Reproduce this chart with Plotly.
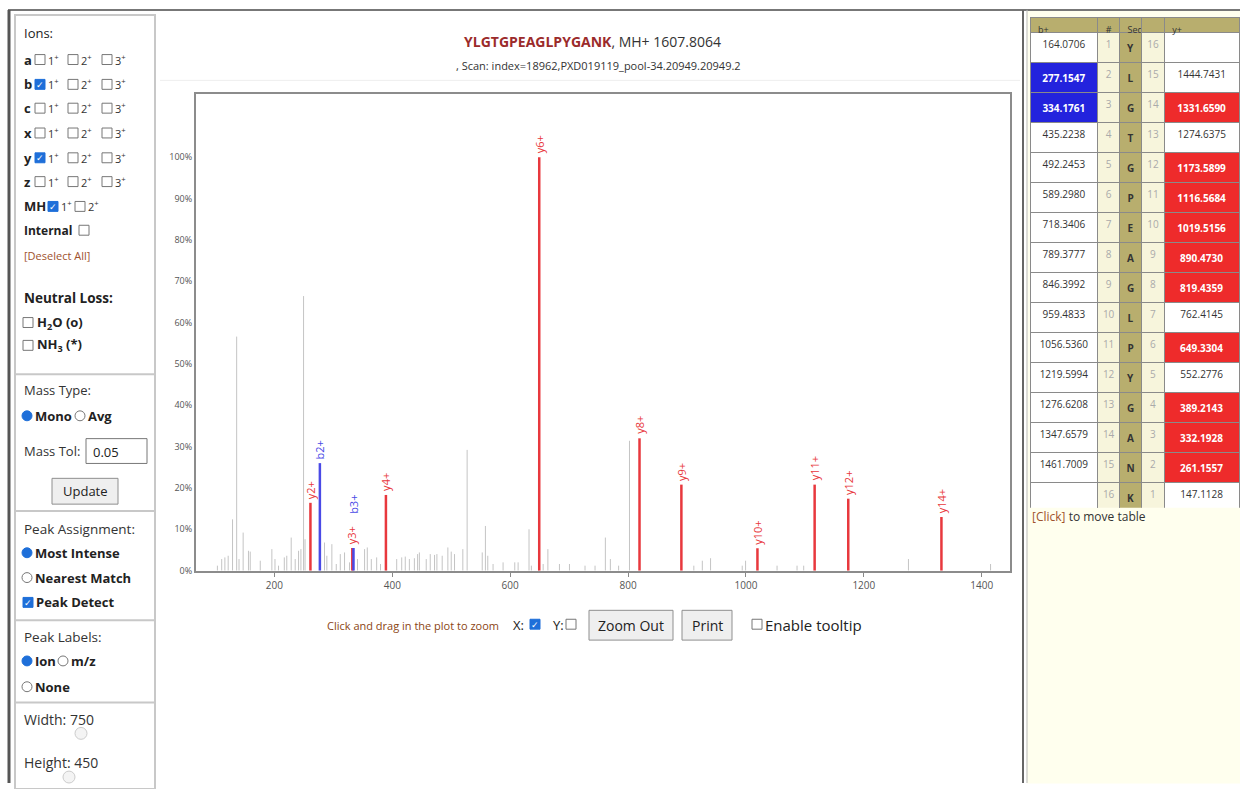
import plotly.graph_objects as go

W, H = 1240, 789
FONT = "Open Sans, DejaVu Sans, sans-serif"

# ---- peptide / fragment table ----
seq = list("YLGTGPEAGLPYGANK")
b_ions = [164.0706, 277.1547, 334.1761, 435.2238, 492.2453, 589.2980, 718.3406, 789.3777,
          846.3992, 959.4833, 1056.5360, 1219.5994, 1276.6208, 1347.6579, 1461.7009, None]
y_ions = [None, 1444.7431, 1331.6590, 1274.6375, 1173.5899, 1116.5684, 1019.5156, 890.4730,
          819.4359, 762.4145, 649.3304, 552.2776, 389.2143, 332.1928, 261.1557, 147.1128]

# matched ions (ion number) and relative intensity (%)
b_match = [2, 3]
b_match_int = [26.0, 5.5]
y_match = [2, 3, 4, 6, 8, 9, 10, 11, 12, 14]
y_match_int = [16.4, 5.5, 18.3, 100.0, 32.0, 20.8, 5.4, 20.8, 17.4, 13.0]

# unassigned peaks (grey)
bg_mz = [103.3, 110.6, 116, 121.6, 129, 136, 140, 147, 156, 159, 176, 195.7, 201, 207, 216.8, 221,
         228.5, 235.3, 241, 245, 249.5, 252, 285, 289, 297.5, 305, 311.8, 319, 327.5, 341, 353,
         357.6, 364.4, 373.5, 380, 407.5, 416, 422, 429, 437.5, 443, 446, 457.6, 464.4, 471.7,
         475.7, 484.7, 494.3, 500, 505.6, 519.7, 527, 552.6, 558, 562, 571, 588, 607.8, 613.5,
         632, 636, 648, 656, 664, 683.6, 700.6, 727, 744, 761.5, 770, 784, 802.4, 911.6, 926,
         940, 993.7, 999.4, 1052.8, 1086.7, 1098, 1275.7, 1415]
bg_int = [1.2, 2.8, 3.2, 3.6, 12.4, 56.6, 2.8, 9.2, 4.8, 4.6, 2.4, 5.2, 2.8, 1.2, 3.2, 3.6, 8.0,
          2.8, 4.8, 5.2, 66.4, 7.6, 6.8, 3.6, 6.4, 1.6, 4.0, 4.4, 2.0, 2.8, 5.2, 5.6, 2.8, 3.2,
          1.6, 2.8, 3.2, 3.4, 2.8, 3.0, 4.0, 4.4, 2.8, 4.0, 3.8, 4.0, 3.6, 5.6, 4.6, 4.0, 5.2,
          29.2, 4.4, 10.8, 3.6, 1.6, 2.0, 2.0, 2.0, 10.0, 1.2, 24, 1.6, 5.2, 1.6, 1.6, 1.2, 1.2,
          8.0, 2.8, 1.2, 31.4, 1.2, 2.4, 3.0, 1.2, 2.4, 1.2, 1.2, 1.2, 2.8, 1.6]

x_ticks = [200, 400, 600, 800, 1000, 1200, 1400]
y_ticks = [0, 10, 20, 30, 40, 50, 60, 70, 80, 90, 100]

RED = "#e8383d"
BLUE = "#4a4ae6"
GREY = "#c4c4c4"


def sticks(mz, inten):
    xs, ys = [], []
    for m, i in zip(mz, inten):
        xs += [m, m, None]
        ys += [0, i, None]
    return xs, ys


def px(x):
    return x / W


def py(y):
    return 1 - y / H


fig = go.Figure()

gx, gy = sticks(bg_mz, bg_int)
fig.add_trace(go.Scatter(x=gx, y=gy, mode="lines", line=dict(color=GREY, width=1), hoverinfo="skip"))

n = len(seq)
b_mz = [b_ions[k - 1] for k in b_match]
y_mz = [y_ions[n - k] for k in y_match]
yx, yy = sticks(y_mz, y_match_int)
bx, by = sticks(b_mz, b_match_int)
fig.add_trace(go.Scatter(x=yx, y=yy, mode="lines", line=dict(color=RED, width=2.5), hoverinfo="skip"))
fig.add_trace(go.Scatter(x=bx, y=by, mode="lines", line=dict(color=BLUE, width=2.5), hoverinfo="skip"))

annotations = []
shapes = []

# peak labels (stack labels of peaks that sit on top of each other)
labels = [(m, i, f"y{k}+", RED) for m, i, k in zip(y_mz, y_match_int, y_match)]
labels += [(m, i, f"b{k}+", BLUE) for m, i, k in zip(b_mz, b_match_int, b_match)]
placed = []
for m, i, t, c in labels:
    shift = 2 + 30 * sum(1 for pm in placed if abs(pm - m) < 5)
    placed.append(m)
    annotations.append(dict(x=m, y=i, xref="x", yref="y", text=t, textangle=-90, showarrow=False,
                            xanchor="center", yanchor="bottom", yshift=shift,
                            font=dict(size=11, color=c, family=FONT)))


def text(x, y, s, size=13, color="#222", anchor="left"):
    annotations.append(dict(x=px(x), y=py(y), xref="paper", yref="paper", text=s, showarrow=False,
                            xanchor=anchor, yanchor="middle", font=dict(size=size, color=color, family=FONT)))


def line(x0, y0, x1, y1, color="#c8c8c8", width=2):
    shapes.append(dict(type="line", xref="paper", yref="paper", x0=px(x0), y0=py(y0), x1=px(x1), y1=py(y1),
                       line=dict(color=color, width=width), layer="above"))


def rect(x0, y0, x1, y1, fill="white", color="#888", width=1, layer="above"):
    shapes.append(dict(type="rect", xref="paper", yref="paper", x0=px(x0), y0=py(y0), x1=px(x1), y1=py(y1),
                       fillcolor=fill, line=dict(color=color, width=width), layer=layer))


def checkbox(x, y, checked=False):
    if checked:
        rect(x, y - 5, x + 10, y + 5, fill="#1e6fd9", color="#1e6fd9")
        text(x + 5, y, "<b>✓</b>", size=9, color="white", anchor="center")
    else:
        rect(x, y - 5, x + 10, y + 5, fill="white", color="#777")


def radio(x, y, checked=False):
    shapes.append(dict(type="circle", xref="paper", yref="paper", x0=px(x - 5), y0=py(y - 5),
                       x1=px(x + 5), y1=py(y + 5), layer="above",
                       fillcolor="#1e6fd9" if checked else "white",
                       line=dict(color="#1e6fd9" if checked else "#777", width=1)))


def button(x0, y0, x1, y1, label, size=14):
    rect(x0, y0, x1, y1, fill="#efefef", color="#8f8f8f")
    text((x0 + x1) / 2, (y0 + y1) / 2, label, size=size, color="#222", anchor="center")


# page frame
rect(1027, 10, 1240, 789, fill="#ffffee", color="#ffffee", layer="below")
line(8, 10, 1240, 10, color="#777", width=2)
line(9, 10, 9, 789, color="#555", width=3)
line(1023, 10, 1023, 789, color="#666", width=2)
line(1027, 10, 1027, 789, color="#bbb", width=1)
rect(15, 15, 155, 795, fill="rgba(0,0,0,0)", color="#c8c8c8", width=2)
for sy in [377, 515, 625, 708]:
    line(15, sy, 155, sy)
line(160, 81, 1020, 81, color="#eeeeee", width=1)

# left option panel
text(22, 33, "Ions:", color="#222")
rows = ["a", "b", "c", "x", "y", "z"]
checked_rows = {"b", "y"}
for r, yy0 in zip(rows, [60, 85, 109, 134, 159, 183]):
    text(22, yy0, f"<b>{r}</b>")
    for j, bx0 in enumerate([35, 68, 102]):
        checkbox(bx0, yy0, checked=(j == 0 and r in checked_rows))
        text(bx0 + 11, yy0, f"{j + 1}<sup>+</sup>", size=11, color="#333")
text(22, 208, "<b>MH</b>")
checkbox(48, 208, True)
text(59, 208, "1<sup>+</sup>", size=11, color="#333")
checkbox(75, 208)
text(86, 208, "2<sup>+</sup>", size=11, color="#333")
text(22, 232, "<b>Internal</b>", size=12)
checkbox(79, 232)
text(22, 257, "[Deselect All]", size=11, color="#a0522d")
text(22, 300, "<b>Neutral Loss:</b>", size=13.5)
checkbox(23, 325)
text(35, 325, "<b>H<sub>2</sub>O (o)</b>", size=13)
checkbox(23, 348)
text(35, 348, "<b>NH<sub>3</sub> (*)</b>", size=13)

text(22, 393, "Mass Type:", color="#333")
radio(27, 419, True)
text(33, 419, "<b>Mono</b>")
radio(80, 419)
text(86, 419, "<b>Avg</b>")
text(22, 454, "Mass Tol:", color="#333")
rect(86, 442, 147, 467, fill="white", color="#777")
text(91, 455, "0.05", size=13, color="#222")
button(52, 482, 118, 508, "Update", size=13)

text(22, 533, "Peak Assignment:", color="#333", size=13.5)
radio(27, 557, True)
text(33, 557, "<b>Most Intense</b>")
radio(27, 582)
text(33, 582, "<b>Nearest Match</b>")
checkbox(23, 607, True)
text(34, 607, "<b>Peak Detect</b>")

text(22, 642, "Peak Labels:", color="#333", size=13.5)
radio(27, 666, True)
text(33, 666, "<b>Ion</b>")
radio(63, 666)
text(69, 666, "<b>m/z</b>")
radio(27, 692)
text(33, 692, "<b>None</b>")
text(22, 725, "Width: 750", color="#333", size=14)
shapes.append(dict(type="circle", xref="paper", yref="paper", x0=px(75), y0=py(733), x1=px(87), y1=py(745),
                   fillcolor="#f4f4f4", line=dict(color="#ccc", width=1)))
text(22, 768, "Height: 450", color="#333", size=14)
shapes.append(dict(type="circle", xref="paper", yref="paper", x0=px(63), y0=py(777), x1=px(75), y1=py(789),
                   fillcolor="#f4f4f4", line=dict(color="#ccc", width=1)))

# header above the spectrum
text(592, 42, "<span style='color:#9b2b2b'><b>YLGTGPEAGLPYGANK</b></span>, MH+ 1607.8064",
     size=14, color="#333", anchor="center")
text(598, 66, ", Scan: index=18962,PXD019119_pool-34.20949.20949.2", size=11, color="#333", anchor="center")

# controls below the spectrum
text(325, 630, "Click and drag in the plot to zoom", size=11, color="#8b4513")
text(511, 630, "X:", size=13, color="#222")
checkbox(530, 629, True)
text(551, 630, "Y:", size=13, color="#222")
checkbox(566, 629)
button(589, 615, 673, 645, "Zoom Out")
button(682, 615, 732, 645, "Print")
checkbox(752, 629)
text(763, 630, "Enable tooltip", size=15, color="#222")

text(1030, 520, "<span style='color:#a0522d'>[Click]</span> to move table", size=12, color="#333")

# fragment table
idx = [str(v) for v in range(1, n + 1)]
ridx = [str(v) for v in range(n, 0, -1)]
b_hit = [(k + 1) in b_match for k in range(n)]
y_hit = [(n - k) in y_match for k in range(n)]
b_text = ["" if v is None else (f"<b>{v:.4f}</b>" if h else f"{v:.4f}") for v, h in zip(b_ions, b_hit)]
y_text = ["" if v is None else (f"<b>{v:.4f}</b>" if h else f"{v:.4f}") for v, h in zip(y_ions, y_hit)]
b_fill = ["#2323dd" if h else "white" for h in b_hit]
y_fill = ["#ee2b2b" if h else "white" for h in y_hit]
b_font = ["white" if h else "#333" for h in b_hit]
y_font = ["white" if h else "#333" for h in y_hit]

fig.add_trace(go.Table(
    domain=dict(x=[px(1030), 1.0], y=[py(512), py(18)]),
    columnwidth=[68, 22, 22, 23, 75],
    header=dict(values=["b+", "#", "Seq#", "", "y+"], fill_color="#b8ae6e", align="left", height=15,
                line=dict(color="#8a8a8a", width=1), font=dict(size=9, color="#333", family=FONT)),
    cells=dict(values=[b_text, idx, [f"<b>{s}</b>" for s in seq], ridx, y_text], height=29.4,
               align="center",
               fill_color=[b_fill, ["#f7f5dc"] * n, ["#b8ae6e"] * n, ["#f7f5dc"] * n, y_fill],
               line=dict(color="#8a8a8a", width=1),
               font=dict(size=10, family=FONT,
                         color=[b_font, ["#aaa"] * n, ["#333"] * n, ["#aaa"] * n, y_font])),
))

fig.update_layout(
    width=W, height=H, margin=dict(l=0, r=0, t=0, b=0),
    paper_bgcolor="white", plot_bgcolor="white", showlegend=False,
    font=dict(family=FONT),
    annotations=annotations, shapes=shapes,
    xaxis=dict(domain=[px(196), px(1010)], range=[67, 1448], tickvals=x_ticks, ticks="outside", ticklen=4,
               tickcolor="#888", showline=True, mirror=True, linecolor="#8c8c8c", linewidth=2,
               showgrid=False, zeroline=False, tickfont=dict(size=10, color="#555")),
    yaxis=dict(domain=[py(575), py(95)], range=[0, 115.2], tickvals=y_ticks,
               ticktext=[f"{v}%" for v in y_ticks],
               showline=True, mirror=True, linecolor="#8c8c8c", linewidth=2,
               showgrid=False, zeroline=False, tickfont=dict(size=9, color="#555")),
)

fig.write_html("out.html", config={"displayModeBar": False},
               post_script="document.body.style.margin='0';")
